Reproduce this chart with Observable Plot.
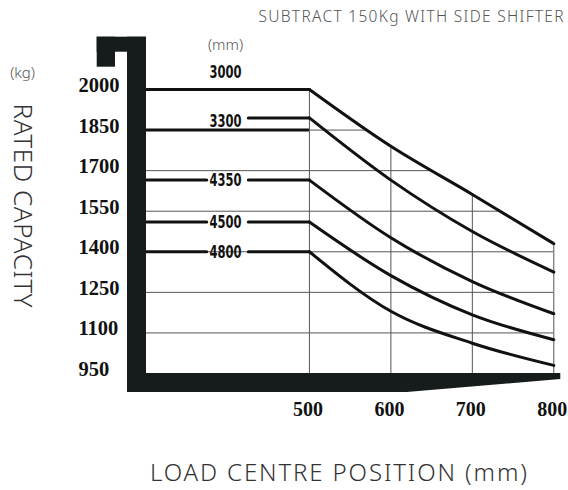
<!DOCTYPE html>
<html><head><meta charset="utf-8">
<script src="https://cdn.jsdelivr.net/npm/d3@7"></script>
<script src="https://cdn.jsdelivr.net/npm/@observablehq/plot@0.6"></script>
<style>body{margin:0;background:#fff}</style>
</head><body><div id="chart"></div>
<script>
// ---- data ----
const loadCentres = [500, 600, 700, 800];            // mm
const mastHeights = ["3000", "3300", "4350", "4500", "4800"]; // mm
const cap3000 = [2000, 1790, 1612, 1430];            // kg
const cap3300 = [1895, 1665, 1475, 1325];
const cap4350 = [1665, 1452, 1290, 1171];
const cap4500 = [1510, 1312, 1167, 1075];
const cap4800 = [1400, 1180, 1062, 980];
const yTicks = [2000, 1850, 1700, 1550, 1400, 1250, 1100, 950];
const xTicks = [500, 600, 700, 800];
const titleText = "SUBTRACT 150Kg WITH SIDE SHIFTER";
const xTitle = "LOAD CENTRE POSITION (mm)";
const yTitle = "RATED CAPACITY";
const yUnit = "(kg)";
const mastUnit = "(mm)";

const caps = {"3000": cap3000, "3300": cap3300, "4350": cap4350, "4500": cap4500, "4800": cap4800};
const xMin = 300, xMax = 800, yMin = 950, yMax = 2000;
const labelX = 397, gapL = 374, gapR = 425;

// curves from 500 to 800
const curves = mastHeights.flatMap(m => loadCentres.map((x, i) => ({mast: m, x, y: caps[m][i]})));
// flat parts left of 500
const flats = [];
mastHeights.forEach(m => {
  const v = caps[m][0];
  if (m === "3000") { flats.push({seg: m, x: xMin, y: v}, {seg: m, x: loadCentres[0], y: v}); return; }
  if (m !== "3300") flats.push({seg: m + "a", x: xMin, y: v}, {seg: m + "a", x: gapL, y: v});
  flats.push({seg: m + "b", x: gapR, y: v}, {seg: m + "b", x: loadCentres[0], y: v});
});
const labels = mastHeights.map(m => ({mast: m, y: caps[m][0]}));

// grid clipped by the 3000 envelope
function envelopeX(v) {
  for (let i = 0; i < cap3000.length - 1; i++) {
    if (v <= cap3000[i] && v >= cap3000[i + 1])
      return loadCentres[i] + (cap3000[i] - v) / (cap3000[i] - cap3000[i + 1]) * (loadCentres[i + 1] - loadCentres[i]);
  }
  return xMax;
}
const hGrid = yTicks.filter(v => v < yMax && v > yMin).map(v => ({y: v, x2: envelopeX(v)}));
const vGrid = loadCentres.map((x, i) => ({x, top: cap3000[i]}));

const light = "'Noto Sans', Lato, sans-serif";
const tickFont = "'Liberation Serif', serif";
const narrow = "'Liberation Sans Narrow', 'DejaVu Sans Condensed', sans-serif";
const mastText = {x: labelX, y: "y", text: "mast", fontFamily: narrow, fontWeight: "bold", fontSize: 18, fill: "#111"};

const plot = Plot.plot({
  width: 568, height: 490,
  marginLeft: 146, marginRight: 14.7, marginTop: 89, marginBottom: 117,
  x: {domain: [xMin, xMax], label: null, axis: null},
  y: {domain: [yMin, yMax], label: null, axis: null},
  marks: [
    Plot.ruleY(hGrid, {y: "y", x1: xMin, x2: "x2", stroke: "#555", strokeWidth: 1}),
    Plot.ruleX(vGrid, {x: "x", y1: yMin, y2: "top", stroke: "#555", strokeWidth: 1}),
    Plot.ruleY([1850], {x1: xMin, x2: loadCentres[0], stroke: "#111", strokeWidth: 3}),
    Plot.line(flats, {x: "x", y: "y", z: "seg", stroke: "#111", strokeWidth: 3}),
    Plot.line(curves, {x: "x", y: "y", z: "mast", stroke: "#111", strokeWidth: 3, curve: "monotone-x", strokeLinejoin: "round"}),
    Plot.text(labels.filter(d => d.mast === "3000"), {...mastText, dy: -17}),
    Plot.text(labels.filter(d => d.mast === "3300"), {...mastText, dy: 3}),
    Plot.text(labels.filter(d => d.mast !== "3000" && d.mast !== "3300"), mastText),
    Plot.axisY(yTicks, {tickSize: 0, tickPadding: 0, tickFormat: d => String(d), textAnchor: "start", dx: -68, dy: -4, fontFamily: tickFont, fontWeight: "bold", fontSize: 20.5, fill: "#111", label: null}),
    Plot.axisX(xTicks, {tickSize: 0, tickPadding: 28, tickFormat: d => String(d), dx: -1.5, fontFamily: tickFont, fontWeight: "bold", fontSize: 20, fill: "#111", label: null}),
    Plot.text([titleText], {frameAnchor: "top-right", textAnchor: "end", lineAnchor: "middle", dx: 9.7, dy: -72, fontFamily: light, fontWeight: 300, fontSize: 15.5, fill: "#555"}),
    Plot.text([mastUnit], {x: labelX, y: yMax, dy: -44, lineAnchor: "middle", fontFamily: light, fontWeight: 300, fontSize: 15, fill: "#555"}),
    Plot.text([yUnit], {frameAnchor: "top-left", textAnchor: "middle", lineAnchor: "middle", dx: -124, dy: -16, fontFamily: light, fontWeight: 300, fontSize: 15, fill: "#555"}),
    Plot.text([yTitle], {frameAnchor: "left", textAnchor: "middle", lineAnchor: "middle", rotate: 90, dx: -124, dy: -26, fontFamily: light, fontWeight: 300, fontSize: 26, fill: "#333"}),
    Plot.text([xTitle], {frameAnchor: "bottom", textAnchor: "middle", lineAnchor: "middle", dx: -11.7, dy: 100, fontFamily: light, fontWeight: 300, fontSize: 24, fill: "#333"})
  ]
});

// fit text lengths to the reference lettering
const fit = {[titleText]: [305, "spacing"], [xTitle]: [377, "spacing"], [yTitle]: [204, "spacing"]};
mastHeights.forEach(m => fit[m] = [32, "spacingAndGlyphs"]);
d3.select(plot).selectAll("text").each(function() {
  const f = fit[this.textContent];
  if (f) { this.setAttribute("textLength", f[0]); this.setAttribute("lengthAdjust", f[1]); }
});

// heavy L-shaped frame drawn from the plot's own scales
const sx = plot.scale("x"), sy = plot.scale("y");
const L = sx.apply(xMin), R = sx.apply(xMax), T = sy.apply(yMax), B = sy.apply(yMin);
const g = d3.select(plot).append("g").attr("fill", "#161b1b");
g.append("rect").attr("x", L - 19).attr("y", T - 52.3).attr("width", 19).attr("height", B + 19 - (T - 52.3));
g.append("rect").attr("x", L - 49.3).attr("y", T - 52.3).attr("width", 49.3).attr("height", 15);
g.append("rect").attr("x", L - 49.3).attr("y", T - 52.3).attr("width", 18.3).attr("height", 30);
g.append("path").attr("d", `M${L - 19},${B}L${R + 7},${B}L${R + 7},${B + 6}L${sx.apply(620)},${B + 19}L${L - 19},${B + 19}Z`);

document.getElementById("chart").appendChild(plot);
</script>
</body></html>
